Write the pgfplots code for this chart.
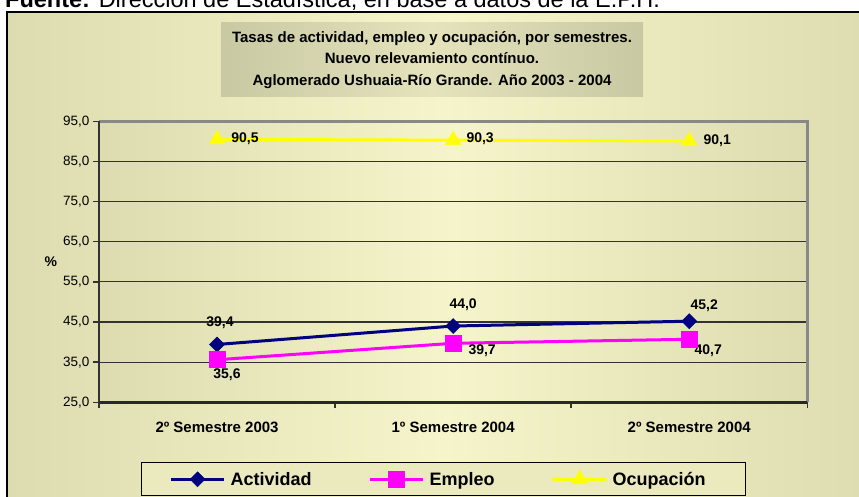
\documentclass[border=0pt]{standalone}
\usepackage{fontspec}
\setmainfont{Liberation Sans}
\usepackage{pgfplots}
\pgfplotsset{compat=1.18}
\definecolor{bgA}{RGB}{221,220,176}
\definecolor{bgB}{RGB}{246,244,202}
\definecolor{titA}{RGB}{200,200,162}
\definecolor{titB}{RGB}{228,227,188}
\definecolor{actC}{RGB}{0,0,128}
\definecolor{empC}{RGB}{255,0,255}
\definecolor{ocuC}{RGB}{255,255,0}
\definecolor{gridC}{RGB}{50,50,50}
\definecolor{borderC}{RGB}{136,136,136}
\tikzset{lbl/.style={font=\bfseries\fontsize{14}{16}\selectfont, inner sep=0pt, anchor=center}}
\begin{document}
\begin{tikzpicture}[x=1pt,y=1pt]
\path[use as bounding box] (0,0) rectangle (859,497);
\shade[left color=bgA, right color=bgA, middle color=bgB] (7,-20) rectangle (880,485);
\draw[black,line width=1.5pt] (7,-20) -- (7,485) -- (880,485);
\node[anchor=base west, inner sep=0pt, font=\fontsize{23.5}{25}\selectfont] at (5,489.5) {\textbf{Fuente:} Dirección de Estadística, en base a datos de la E.P.H.};
\shade[left color=titA, right color=titA, middle color=titB] (221,400.3) rectangle (643,474.7);
\node[anchor=base, font=\bfseries\fontsize{15}{17}\selectfont, inner sep=0pt] at (432,454.5) {Tasas de actividad, empleo y ocupación, por semestres.};
\node[anchor=base, font=\bfseries\fontsize{15}{17}\selectfont, inner sep=0pt] at (432,433) {Nuevo relevamiento contínuo.};
\node[anchor=base, font=\bfseries\fontsize{15}{17}\selectfont, inner sep=0pt] at (432,411.5) {Aglomerado Ushuaia-Río Grande. Año 2003 - 2004};
\shade[left color=bgA, right color=bgA, middle color=bgB] (99,94.7) rectangle (807.3,375.7);
\begin{axis}[
  at={(99pt,94.7pt)}, anchor=south west, scale only axis,
  width=708.3pt, height=281pt,
  xmin=-0.5, xmax=2.5, ymin=25, ymax=95,
  clip=false,
  axis line style={draw=none},
  ytick={25,35,45,55,65,75,85,95},
  yticklabel style={font=\fontsize{13.5}{15}\selectfont, /pgf/number format/fixed, /pgf/number format/fixed zerofill, /pgf/number format/precision=1, /pgf/number format/use comma, /pgf/number format/assume math mode=true},
  tick align=outside, tick pos=left,
  major tick length=6pt,
  tick style={gridC, line width=1.5pt},
  ymajorgrids, grid style={gridC, line width=1.2pt},
  xtick={-0.5,0.5,1.5,2.5}, xticklabels={},
  extra x ticks={0,1,2},
  extra x tick labels={2º Semestre 2003, 1º Semestre 2004, 2º Semestre 2004},
  extra x tick style={major tick length=0pt, xticklabel style={font=\bfseries\fontsize{15}{17}\selectfont, yshift=-16pt}},
  ylabel={\%},
  ylabel style={rotate=-90, at={(axis description cs:-0.068,0.5)}, anchor=center, font=\bfseries\fontsize{14}{16}\selectfont},
  legend columns=3,
  legend style={at={(axis description cs:0.0593,-0.2114)}, anchor=north west, draw=black, line width=1.2pt, fill=bgB!55!bgA,
    font=\bfseries\fontsize{18}{20}\selectfont, inner xsep=28pt, inner ysep=8pt,
    nodes={inner sep=0pt},
    /tikz/every even column/.append style={column sep=57pt},
    /tikz/every odd column/.append style={column sep=5pt}},
  legend image code/.code={\draw[mark repeat=2,mark phase=2,#1] plot coordinates {(0pt,0pt) (26.5pt,0pt) (53pt,0pt)};},
]
\addplot[actC, line width=3pt, mark=square*, mark size=5.3pt, mark options={rotate=45, solid, fill=actC, draw=actC, line width=0.5pt}] coordinates {(0,39.4) (1,44.0) (2,45.2)};
\addlegendentry{Actividad}
\addplot[empC, line width=3pt, mark=square*, mark size=8pt, mark options={solid, fill=empC, draw=empC, line width=0.5pt}] coordinates {(0,35.6) (1,39.7) (2,40.7)};
\addlegendentry{Empleo}
\addplot[ocuC, line width=3pt, mark=triangle*, mark size=9pt, mark options={solid, fill=ocuC, draw=ocuC, line width=0.5pt}] coordinates {(0,90.5) (1,90.3) (2,90.1)};
\addlegendentry{\makebox[105pt][l]{Ocupación}}
\draw[borderC, line width=2.5pt] (rel axis cs:0,1) -- (rel axis cs:1,1) -- (rel axis cs:1,0);
\draw[gridC, line width=2pt] (rel axis cs:0,0) -- (rel axis cs:0,1);
\draw[gridC!80!black, line width=2.5pt] (rel axis cs:0,0) -- (rel axis cs:1,0);
\node[lbl, xshift=3pt, yshift=22pt] at (axis cs:0,39.4) {39,4};
\node[lbl, xshift=10pt, yshift=21pt] at (axis cs:1,44.0) {44,0};
\node[lbl, xshift=15pt, yshift=16pt] at (axis cs:2,45.2) {45,2};
\node[lbl, xshift=10pt, yshift=-15pt] at (axis cs:0,35.6) {35,6};
\node[lbl, xshift=29pt, yshift=-7pt] at (axis cs:1,39.7) {39,7};
\node[lbl, xshift=19pt, yshift=-11pt] at (axis cs:2,40.7) {40,7};
\node[lbl, xshift=28pt, yshift=1pt] at (axis cs:0,90.5) {90,5};
\node[lbl, xshift=27pt, yshift=1pt] at (axis cs:1,90.3) {90,3};
\node[lbl, xshift=28pt, yshift=0pt] at (axis cs:2,90.1) {90,1};
\end{axis}
\end{tikzpicture}
\end{document}
